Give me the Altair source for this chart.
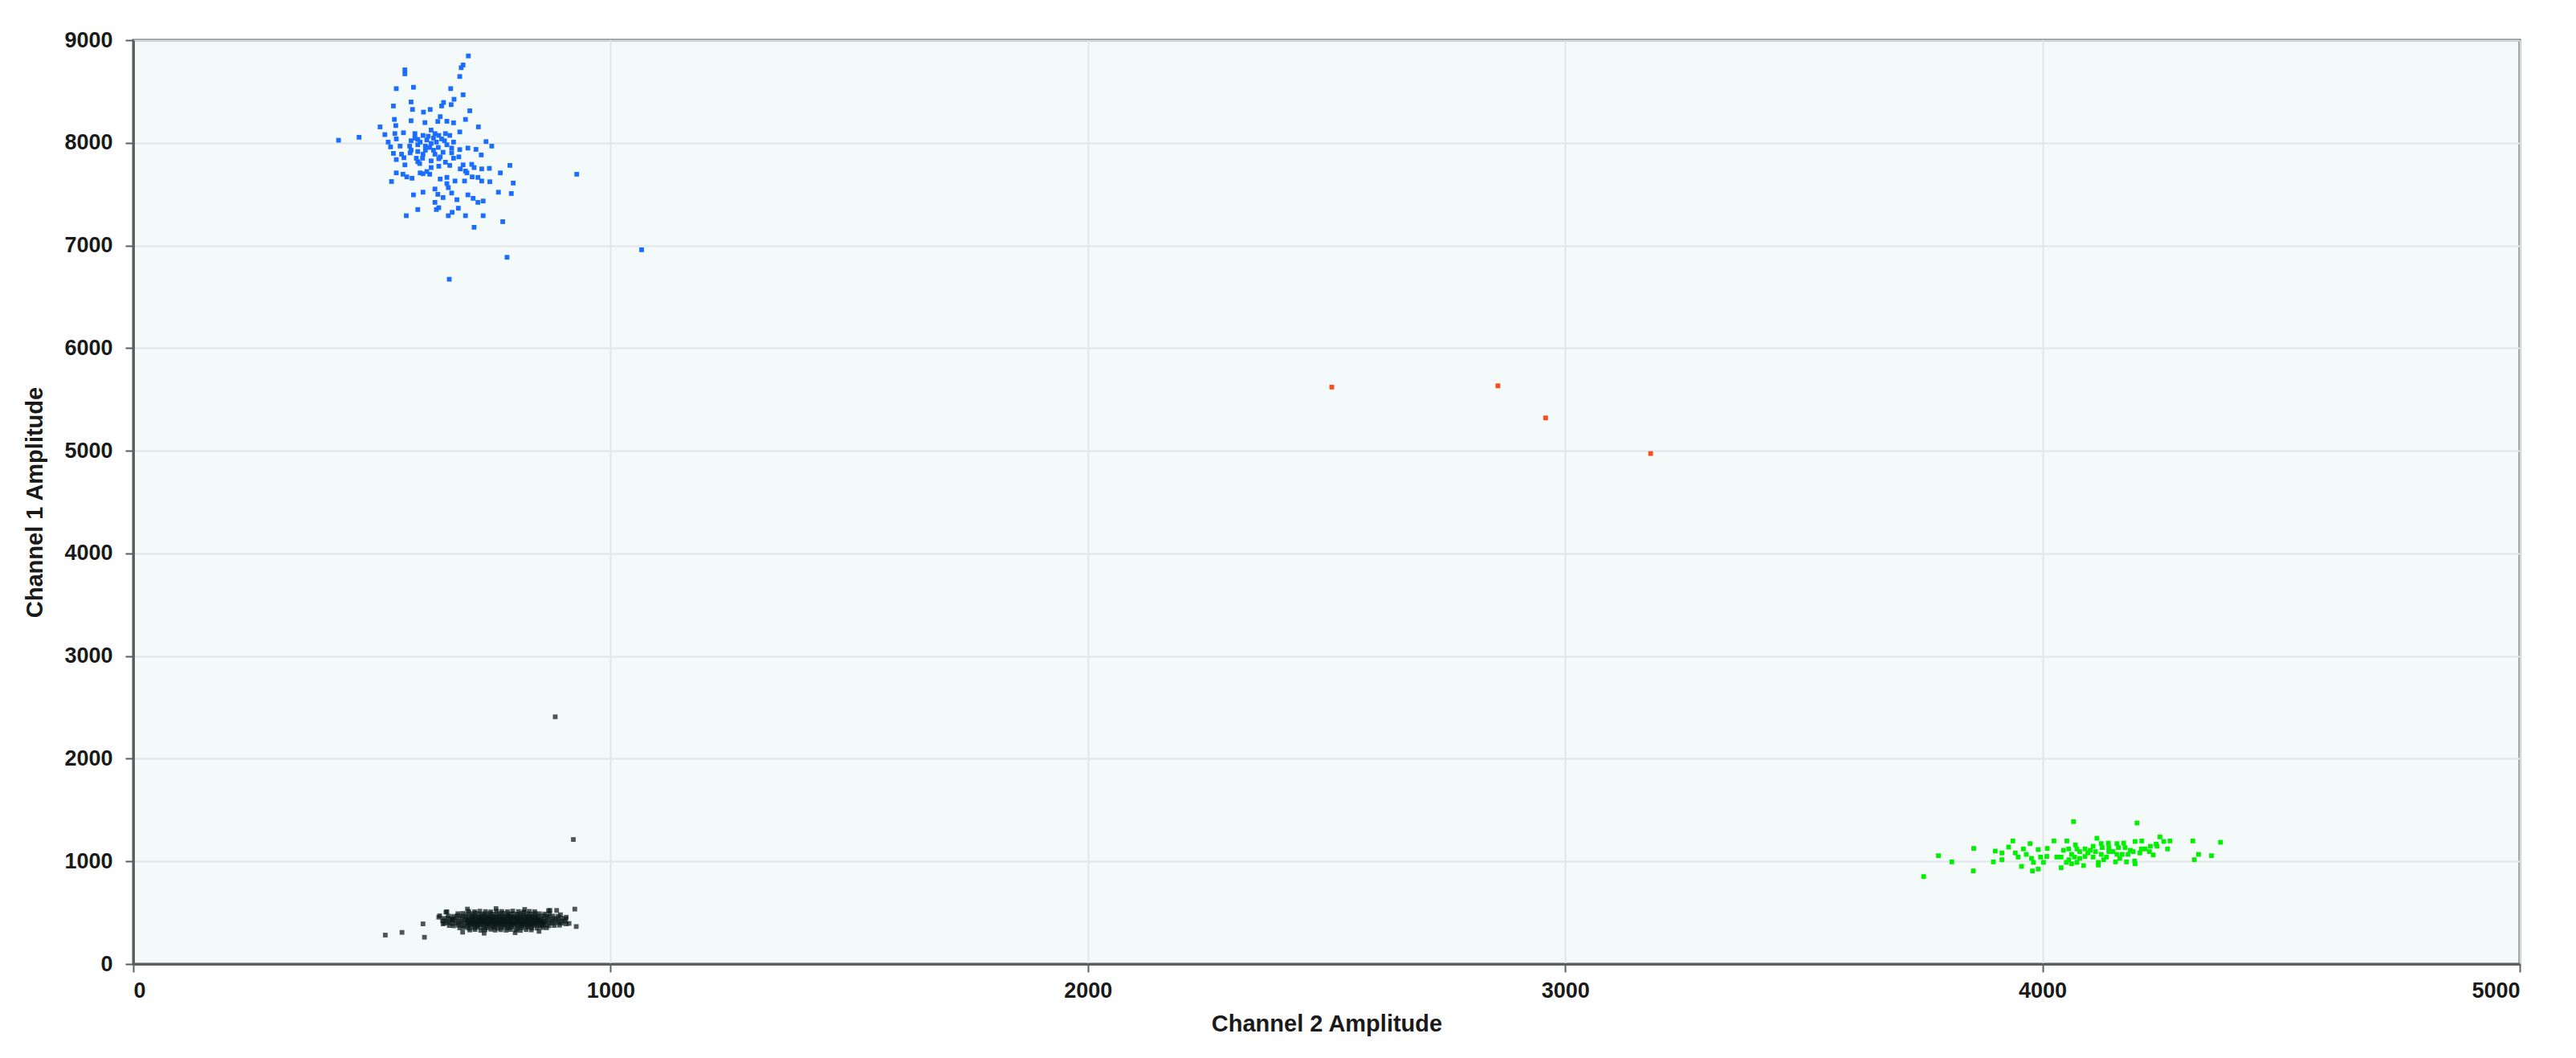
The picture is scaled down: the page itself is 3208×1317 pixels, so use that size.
import altair as alt
import pandas as pd

# ---- data (Channel 2 amplitude = x, Channel 1 amplitude = y) ----
blue_x = [702, 691, 687, 569, 569, 684, 551, 587, 665, 691, 545, 582, 585, 650, 646, 672, 666, 608, 622, 705,
          547, 582, 611, 643, 638, 657, 671, 696, 550, 517, 723, 527, 548, 566, 590, 607, 624, 632, 640, 654,
          684, 430, 473, 534, 551, 582, 596, 615, 629, 646, 663, 671, 739, 751, 539, 559, 579, 596, 621, 639,
          667, 684, 701, 718, 545, 562, 580, 596, 612, 632, 649, 667, 682, 729, 551, 567, 596, 606, 624, 640,
          654, 569, 600, 624, 640, 663, 789, 685, 696, 709, 714, 730, 746, 769, 929, 551, 565, 573, 584, 607,
          621, 643, 657, 674, 694, 710, 722, 730, 747, 796, 541, 657, 660, 607, 587, 632, 638, 649, 667, 678,
          701, 712, 722, 733, 765, 792, 632, 596, 635, 640, 572, 660, 668, 681, 696, 733, 774, 714, 783, 662,
          1065, 590, 601, 618, 635, 652, 607, 643, 593, 624, 612, 582, 657, 629, 671, 691, 699, 601, 615]
blue_y = [8846, 8758, 8732, 8711, 8672, 8646, 8528, 8541, 8528, 8468, 8359, 8398, 8325, 8393, 8359, 8424, 8372, 8299, 8325, 8312,
          8228, 8215, 8197, 8255, 8208, 8210, 8195, 8228, 8168, 8155, 8155, 8080, 8090, 8098, 8090, 8072, 8124, 8090, 8072, 8090,
          8106, 8025, 8054, 8007, 8038, 8020, 8033, 8028, 8046, 8038, 8072, 8007, 8012, 7968, 7960, 7968, 7968, 7981, 7955, 7955,
          7949, 7934, 7949, 7936, 7897, 7889, 7902, 7915, 7928, 7889, 7908, 7902, 7863, 7882, 7837, 7855, 7816, 7850, 7824, 7845,
          7811, 7785, 7798, 7759, 7772, 7780, 7780, 7746, 7725, 7790, 7759, 7746, 7751, 7707, 7694, 7707, 7694, 7668, 7655, 7699,
          7694, 7647, 7663, 7628, 7628, 7668, 7663, 7628, 7621, 7608, 7623, 7603, 7563, 7519, 7493, 7550, 7498, 7467, 7511, 7446,
          7493, 7459, 7420, 7433, 7519, 7506, 7420, 7350, 7350, 7368, 7290, 7290, 7323, 7363, 7290, 7290, 7232, 7177, 6885, 6671,
          6958, 8046, 8007, 8064, 8007, 8020, 7889, 7863, 7850, 7994, 7968, 7928, 7981, 7928, 7850, 7785, 7707, 7707, 7720]

orange_x = [2511, 2859, 2959, 3179]
orange_y = [5620, 5633, 5320, 4973]

green_x = [3751, 3782, 3810, 3856, 3855, 3897, 3901, 3915, 3915, 3929, 3938, 3943, 3949, 3956, 3960, 3966, 3974, 3977, 3981, 3979,
           3991, 3991, 3996, 4002, 4010, 4009, 4024, 4030, 4039, 4044, 4051, 4055, 4061, 4065, 4069, 4072, 4078, 4086, 4089, 4100,
           4114, 4117, 4123, 4125, 4134, 4138, 4148, 4153, 4159, 4167, 4170, 4176, 4184, 4194, 4194, 4198, 4204, 4208, 4215, 4226,
           4232, 4238, 4246, 4254, 4262, 4267, 4315, 4318, 4327, 4354, 4373,
           4039, 4050, 4067, 4078, 4095, 4106, 4111, 4128, 4139, 4156, 4162, 4179, 4055, 4072, 4089, 4106, 4123, 4139, 4156, 4173,
           4190, 4207, 4224, 4240, 4117, 4061, 4193]
green_y = [852, 1055, 995, 1126, 907, 995, 1100, 1082, 1016, 1139, 1199, 1082, 1042, 951, 1121, 1068, 1173, 1029, 990, 907,
           925, 1115, 1042, 990, 1126, 1048, 1199, 1042, 938, 1108, 1199, 1016, 1068, 1387, 1160, 990, 1095, 959, 1048, 1108,
           1225, 964, 1068, 1134, 1042, 1178, 1095, 995, 1134, 1068, 1178, 995, 1108, 977, 1194, 1374, 1082, 1199, 1121, 1147,
           1063, 1168, 1238, 1194, 1121, 1199, 1199, 1016, 1068, 1055, 1186,
           1042, 990, 1042, 1029, 1082, 1042, 1095, 1016, 1095, 1068, 1029, 1068, 1121, 1121, 1121, 1147, 1173, 1134, 1173, 1134,
           1095, 1121, 1095, 1147, 990, 977, 1003]

black_x = [528, 563, 607, 610, 925, 928, 640, 657, 649, 887, 907, 907, 873, 884, 922,
           705, 716, 728, 737, 749, 758, 770, 781, 790, 802, 811, 823, 834,
           684, 693, 703, 714, 722, 733, 742, 754, 763, 772, 784, 793, 805, 814, 826, 835, 846, 857, 866,
           662, 671, 681, 690, 700, 709, 719, 728, 738, 747, 757, 766, 776, 785, 795, 804, 814, 823, 833, 842, 852, 861, 871, 882, 893,
           652, 661, 670, 680, 689, 699, 708, 718, 727, 737, 746, 756, 765, 775, 784, 794, 803, 813, 822, 832, 841, 851, 860, 870, 879, 889, 898,
           648, 657, 667, 676, 686, 695, 705, 714, 724, 733, 743, 752, 762, 771, 781, 790, 800, 809, 819, 828, 838, 847, 857, 866, 876, 885, 895, 904,
           650, 659, 669, 678, 688, 697, 707, 716, 726, 735, 745, 754, 764, 773, 783, 792, 802, 811, 821, 830, 840, 849, 859, 868, 878, 887, 897,
           660, 670, 679, 689, 698, 708, 717, 727, 736, 746, 755, 765, 774, 784, 793, 803, 812, 822, 831, 841, 850, 860, 869, 879, 890,
           680, 690, 699, 709, 718, 728, 737, 747, 756, 766, 775, 785, 794, 804, 813, 823, 832, 842, 851, 862, 872,
           703, 715, 726, 738, 749, 761, 772, 784, 795, 807, 818, 830, 841,
           704, 714, 723, 733, 742, 752, 761, 771, 780, 790, 799, 809, 818, 828, 837, 847, 856,
           700, 710, 719, 729, 738, 748, 757, 767, 776, 786, 795, 805, 814, 824, 833, 843, 852, 861,
           702, 712, 721, 731, 740, 750, 759, 769, 778, 788, 797, 807, 816, 826, 835, 845, 854,
           710, 720, 729, 739, 748, 758, 767, 777, 786, 796, 805, 815, 824, 834, 843,
           642, 655, 668, 895, 906, 913, 690, 735, 800, 850, 700, 760, 820, 870]
black_y = [282, 308, 391, 261, 535, 365, 456, 509, 391, 522, 456, 391, 522, 2408, 1213,
           331, 336, 328, 333, 338, 330, 334, 329, 336, 331, 327, 335, 332,
           352, 356, 349, 354, 358, 350, 353, 357, 348, 355, 351, 356, 349, 354, 358, 352, 350, 355, 353,
           375, 372, 378, 374, 371, 377, 375, 379, 372, 376, 373, 378, 374, 371, 377, 375, 372, 378, 374, 376, 371, 377, 373, 375, 378,
           398, 401, 395, 399, 402, 396, 400, 397, 403, 398, 395, 401, 399, 396, 402, 398, 400, 395, 401, 397, 399, 403, 396, 400, 398, 402, 397,
           421, 418, 424, 420, 417, 423, 421, 419, 425, 420, 417, 422, 420, 424, 418, 421, 423, 419, 417, 422, 420, 424, 418, 421, 419, 423, 420, 418,
           444, 447, 441, 445, 448, 442, 444, 446, 440, 445, 448, 443, 444, 441, 447, 445, 442, 446, 444, 440, 447, 443, 445, 448, 442, 444, 446,
           467, 464, 470, 466, 463, 469, 467, 465, 471, 466, 463, 468, 467, 470, 464, 467, 469, 465, 463, 468, 466, 470, 464, 467, 465,
           490, 493, 487, 491, 494, 488, 490, 492, 486, 491, 494, 489, 490, 487, 493, 491, 488, 492, 490, 487, 491,
           512, 509, 515, 511, 508, 514, 512, 510, 516, 511, 508, 513, 510,
           386, 390, 384, 388, 391, 385, 387, 389, 383, 388, 391, 386, 387, 384, 390, 388, 385,
           410, 407, 413, 409, 406, 412, 410, 408, 414, 409, 406, 411, 410, 413, 407, 410, 412, 408,
           433, 436, 430, 434, 437, 431, 433, 435, 429, 434, 437, 432, 433, 430, 436, 434, 431,
           456, 453, 459, 455, 452, 458, 456, 454, 460, 455, 452, 457, 456, 459, 453,
           470, 505, 430, 480, 440, 395, 310, 300, 305, 318, 535, 540, 532, 520]

x_ticks = [0, 1000, 2000, 3000, 4000, 5000]
y_ticks = [0, 1000, 2000, 3000, 4000, 5000, 6000, 7000, 8000, 9000]

xscale = alt.Scale(domain=[0, 5000], nice=False, zero=False)
yscale = alt.Scale(domain=[0, 9000], nice=False, zero=False)
xaxis = alt.Axis(title="Channel 2 Amplitude", values=x_ticks, format="d",
                 labelPadding=10, titlePadding=14)
yaxis = alt.Axis(title="Channel 1 Amplitude", values=y_ticks, format="d",
                 labelPadding=16, titlePadding=21)


def layer(xs, ys, color, opacity, size=34):
    df = pd.DataFrame({"x": xs, "y": ys})
    return alt.Chart(df).mark_square(size=size, color=color, opacity=opacity, strokeWidth=0).encode(
        x=alt.X("x:Q", scale=xscale, axis=xaxis),
        y=alt.Y("y:Q", scale=yscale, axis=yaxis),
    )


chart = alt.layer(
    layer(black_x, black_y, "#0a1818", 0.72),
    layer(green_x, green_y, "#00f000", 1.0),
    layer(orange_x, orange_y, "#ff4a1a", 1.0),
    layer(blue_x, blue_y, "#1a6dff", 1.0),
).properties(
    width=2972,
    height=1150,
    autosize=alt.AutoSizeParams(type="none"),
    padding={"left": 158, "top": 42, "right": 40, "bottom": 110},
    background="white",
).configure_view(
    fill="#f4f9fa", stroke="#5a5f62", strokeWidth=3
).configure_axis(
    grid=True, gridColor="#e1e6e8", gridWidth=2,
    domainColor="#5a5f62", domainWidth=3,
    tickColor="#5a5f62", tickWidth=2, tickSize=10,
    labelFont="Liberation Sans", labelFontSize=27, labelFontWeight="bold", labelColor="#1a1a1a",
    titleFont="Liberation Sans Narrow, Liberation Sans", titleFontSize=29,
    titleFontWeight="bold", titleColor="#1a1a1a",
)

chart.save("out.html", embed_options={"renderer": "svg", "actions": False})
